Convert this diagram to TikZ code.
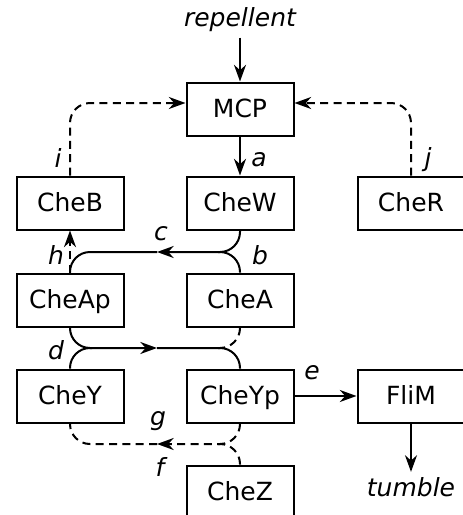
\documentclass[tikz,border=0pt]{standalone}
\usepackage{fontspec}
\setmainfont{DejaVu Sans}
\usetikzlibrary{arrows.meta}
\begin{document}
\begin{tikzpicture}[x=0.75pt,y=-0.75pt,>={Stealth[length=12.5pt,width=9pt,inset=4pt]},
  line width=1.5pt,font=\fontsize{18.75}{22}\selectfont,
  box/.style={draw,minimum width=80.25pt,minimum height=39.75pt,inner sep=0pt,
    text height=13.7pt,text depth=0.6pt},
  lbl/.style={font=\fontsize{18.75}{22}\selectfont\itshape},
  dsh/.style={dash pattern=on 6pt off 4pt},
  wire/.style={rounded corners=15pt}]
  \useasboundingbox (0,0) rectangle (462,515);

  % boxes
  \node[box] (MCP) at (240,109) {MCP};
  \node[box] (CheB) at (70,203) {CheB};
  \node[box] (CheW) at (240,203) {CheW};
  \node[box] (CheR) at (411,203) {CheR};
  \node[box] (CheAp) at (70,300) {CheAp};
  \node[box] (CheA) at (240,300) {CheA};
  \node[box] (CheY) at (70,396) {CheY};
  \node[box] (CheYp) at (240,396) {CheYp};
  \node[box] (FliM) at (411,396) {FliM};
  \node[box] (CheZ) at (240,492) {CheZ};
  \node[lbl] (rep) at (240,20) {repellent};
  \node[lbl] (tum) at (411,487) {tumble};

  % rows of the crossings
  \coordinate (iy) at (0,103);
  \coordinate (cm) at (157,252);
  \coordinate (cj) at (218,252);
  \coordinate (dm) at (157,348);
  \coordinate (dl) at (92,348);
  \coordinate (dj) at (218,348);
  \coordinate (fm) at (157,444);
  \coordinate (fj) at (218,444);

  % input and a
  \draw[->] (rep) -- (MCP);
  \draw[->] (MCP) -- (CheW);

  % i, j
  \draw[dsh,wire,->] (CheB.north) |- (MCP.west |- iy);
  \draw[dsh,wire,->] (CheR.north) |- (MCP.east |- iy);

  % b, c
  \draw[wire,->] (CheW.south) |- (cm);
  \draw[wire] (cm) -| (CheAp.north);
  \draw[wire] (CheA.north) |- (cj);

  % h
  \draw[dsh,->] (CheAp.north) -- (CheB.south);

  % d
  \draw[wire,->] (CheAp.south) |- (dm);
  \draw[wire] (dm) -| (CheYp.north);
  \draw[wire] (CheY.north) |- (dl);
  \draw[wire,dsh] (CheA.south) |- (dj);

  % e and output
  \draw[->] (CheYp) -- (FliM);
  \draw[->] (FliM) -- (tum);

  % f, g
  \draw[wire,dsh,->] (CheYp.south) |- (fm);
  \draw[wire,dsh] (fm) -| (CheY.south);
  \draw[wire,dsh] (CheZ.north) |- (fj);

  % labels
  \node[lbl] (la) at (259,160) {a};
  \node[lbl] (lb) at (260,255) {b};
  \node[lbl] (lc) at (161,234) {c};
  \node[lbl] (ld) at (56,350) {d};
  \node[lbl] (le) at (312,373) {e};
  \node[lbl] (lf) at (160,467) {f};
  \node[lbl] (lg) at (158,421) {g};
  \node[lbl] (lh) at (56,255) {h};
  \node[lbl] (li) at (58,158) {i};
  \node[lbl] (lj) at (428,160) {j};
\end{tikzpicture}
\end{document}
